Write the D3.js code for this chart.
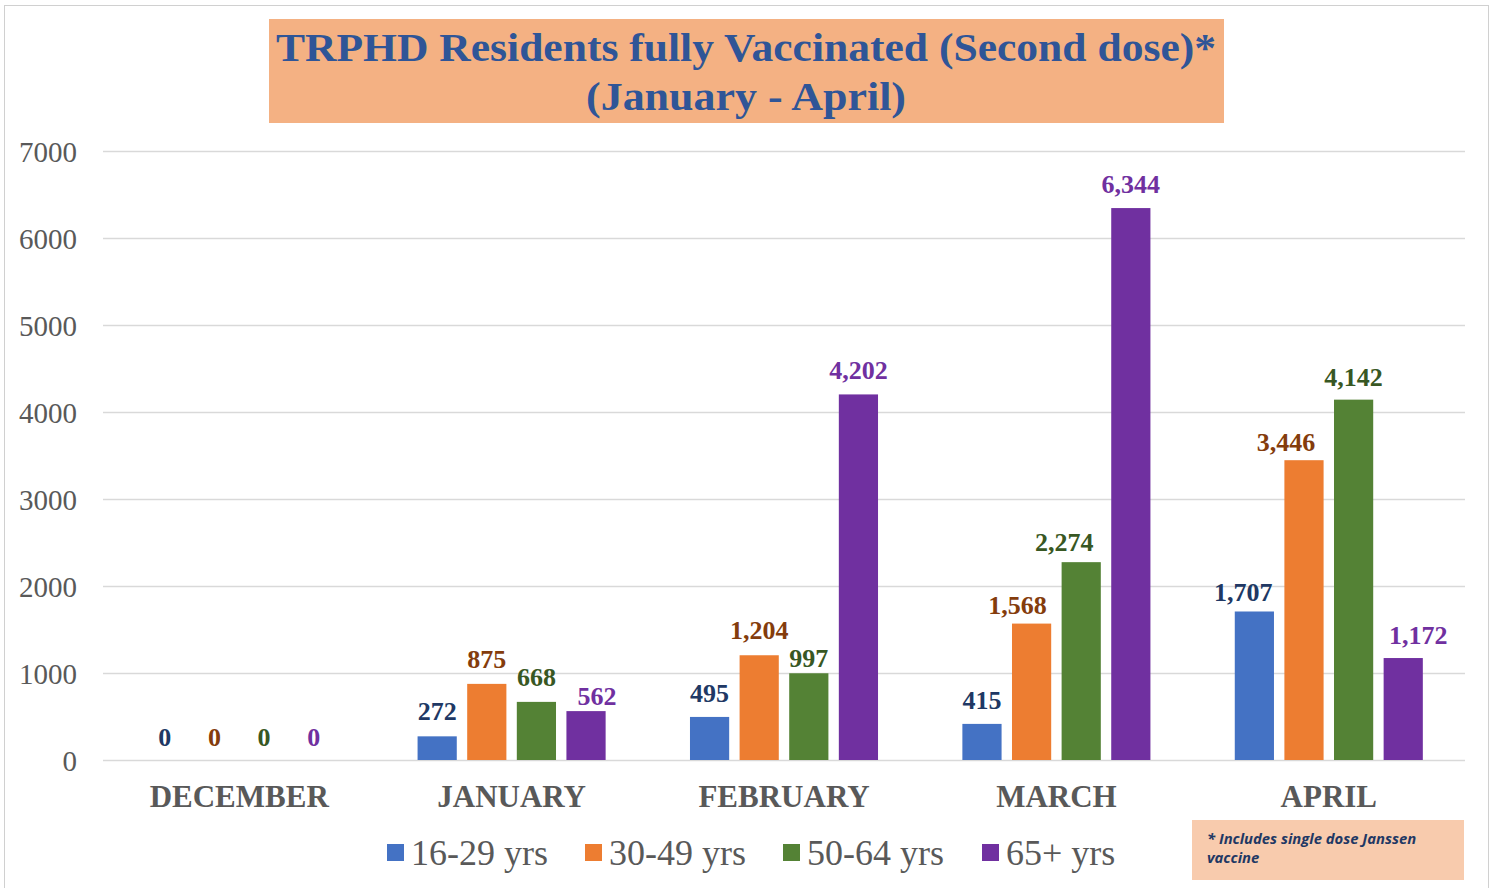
<!DOCTYPE html>
<html><head><meta charset="utf-8">
<script src="https://cdn.jsdelivr.net/npm/d3@7"></script>
<style>body{margin:0;background:#fff}svg{display:block}</style>
</head><body>
<svg id="c" width="1494" height="888"></svg>
<script>
const months = ["DECEMBER","JANUARY","FEBRUARY","MARCH","APRIL"];
const seriesNames = ["16-29 yrs","30-49 yrs","50-64 yrs","65+ yrs"];
const v1629 = [0,272,495,415,1707];
const v3049 = [0,875,1204,1568,3446];
const v5064 = [0,668,997,2274,4142];
const v65 = [0,562,4202,6344,1172];
const yTicks = [0,1000,2000,3000,4000,5000,6000,7000];
const barColors = ["#4472C4","#ED7D31","#548235","#7030A0"];
const labelColors = ["#203864","#843C0C","#385723","#7030A0"];
const seriesValues = [v1629,v3049,v5064,v65];
// data-label placement tweaks (px), per series, per month
const labelNudgeX = [[0,0,0,0,-11],[0,0,0,-14,-18],[0,0,0,-17,0],[0,11,0,0,15]];
const labelLift   = [[14,16,15,15,10],[14,16,16,10,9],[14,16,6,11,14],[14,6,15,15,14]];

(function(){
const svg = d3.select("#c");
const serif = "'Liberation Serif','DejaVu Serif',serif";

svg.append("rect").attr("x",4.5).attr("y",5.5).attr("width",1484).attr("height",890)
  .attr("fill","none").attr("stroke","#d0d0d0").attr("stroke-width",1);

const pl=103,pr=1465,pt=151,pb=760;
const x = d3.scaleBand().domain(months).range([pl,pr]);
const xs = d3.scaleBand().domain(seriesNames).range([0,x.bandwidth()]).paddingInner(0.21).paddingOuter(0.85);
const y = d3.scaleLinear().domain([0,7000]).range([pb,pt]);

svg.append("g").selectAll("line").data(yTicks).join("line")
  .attr("x1",pl).attr("x2",pr).attr("y1",d=>y(d)+0.5).attr("y2",d=>y(d)+0.5)
  .attr("stroke","#d9d9d9").attr("stroke-width",1.5);

const yAxis = d3.axisLeft(y).tickValues(yTicks).tickSize(0).tickPadding(26).tickFormat(d3.format("d"));
const ya = svg.append("g").attr("transform",`translate(${pl},0)`).call(yAxis);
ya.select(".domain").remove();
ya.selectAll("text").attr("font-family",serif).attr("font-size",29).attr("fill","#595959").attr("dy","0.35em");

const xAxis = d3.axisBottom(x).tickSize(0).tickPadding(25);
const xa = svg.append("g").attr("transform",`translate(0,${pb})`).call(xAxis);
xa.select(".domain").remove();
xa.selectAll("text").attr("font-family",serif).attr("font-size",31).attr("font-weight","bold").attr("fill","#595959");

const data = [];
months.forEach((m,i)=>seriesNames.forEach((s,j)=>data.push({m,i,s,j,v:seriesValues[j][i]})));
const g = svg.append("g");
g.selectAll("rect").data(data).join("rect")
  .attr("x",d=>x(d.m)+xs(d.s)).attr("width",xs.bandwidth())
  .attr("y",d=>y(d.v)).attr("height",d=>y(0)-y(d.v))
  .attr("fill",d=>barColors[d.j]);
const fmt = d3.format(",");
g.selectAll("text").data(data).join("text")
  .attr("x",d=>x(d.m)+xs(d.s)+xs.bandwidth()/2 + labelNudgeX[d.j][d.i])
  .attr("y",d=>y(d.v)-labelLift[d.j][d.i])
  .attr("text-anchor","middle").attr("font-family",serif).attr("font-weight","bold")
  .attr("font-size",26).attr("fill",d=>labelColors[d.j]).text(d=>fmt(d.v));

svg.append("rect").attr("x",269).attr("y",19).attr("width",955).attr("height",104).attr("fill","#F4B183");
svg.append("text").attr("x",746).attr("y",61).attr("text-anchor","middle")
  .attr("font-family",serif).attr("font-weight","bold").attr("font-size",39).attr("fill","#2F5597")
  .attr("textLength",940).attr("lengthAdjust","spacingAndGlyphs")
  .text("TRPHD Residents fully Vaccinated (Second dose)*");
svg.append("text").attr("x",746).attr("y",110).attr("text-anchor","middle")
  .attr("font-family",serif).attr("font-weight","bold").attr("font-size",39).attr("fill","#2F5597")
  .attr("textLength",320).attr("lengthAdjust","spacingAndGlyphs")
  .text("(January - April)");

const legX = [387,585,783,982];
const lg = svg.append("g").selectAll("g").data(seriesNames).join("g")
  .attr("transform",(d,i)=>`translate(${legX[i]},0)`);
lg.append("rect").attr("x",0).attr("y",844).attr("width",17).attr("height",17).attr("fill",(d,i)=>barColors[i]);
lg.append("text").attr("x",24).attr("y",865).attr("font-family",serif).attr("font-size",36)
  .attr("fill","#595959").text(d=>d);

svg.append("rect").attr("x",1192).attr("y",820).attr("width",272).attr("height",60).attr("fill","#F8CBAD");
const fn = svg.append("text").attr("font-family","'Open Sans','Liberation Sans',sans-serif")
  .attr("font-style","italic").attr("font-weight","bold").attr("font-size",14.8).attr("fill","#1F3864");
fn.append("tspan").attr("x",1207).attr("y",844).text("* Includes single dose Janssen");
fn.append("tspan").attr("x",1207).attr("y",863).text("vaccine");
})();
</script>
</body></html>
